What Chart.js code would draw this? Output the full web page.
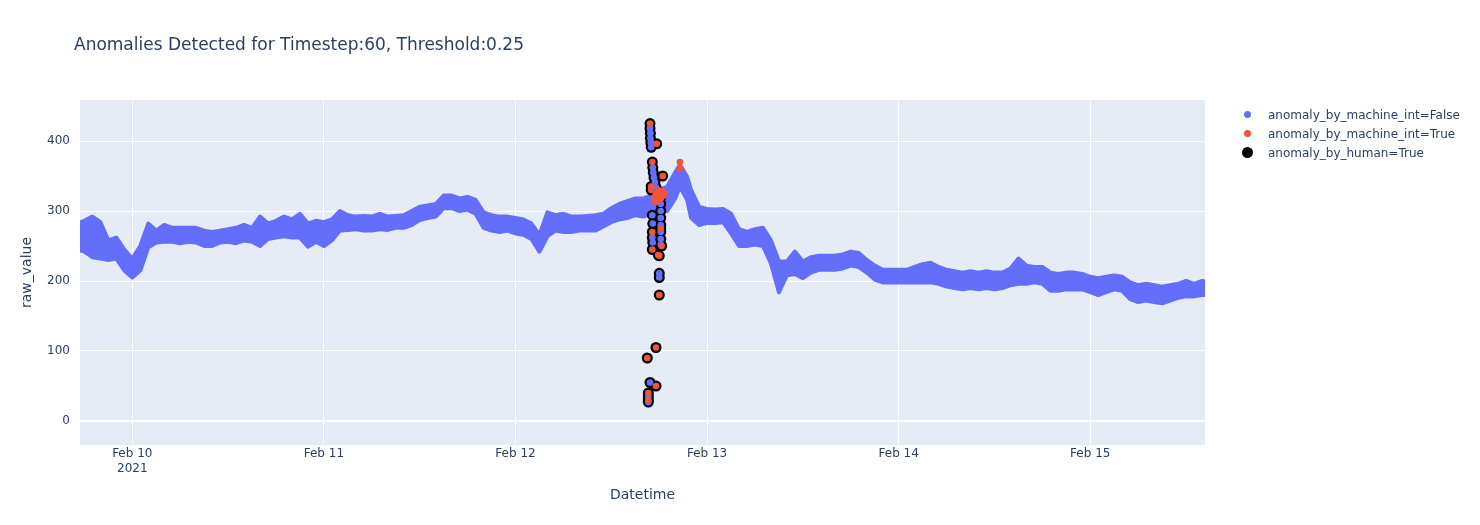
<!DOCTYPE html>
<html>
<head>
<meta charset="utf-8">
<script src="https://cdn.jsdelivr.net/npm/chart.js@4.4.1/dist/chart.umd.min.js"></script>
<style>
  body { margin: 0; background: #fff; font-family: "DejaVu Sans", sans-serif; }
  #wrap { position: relative; width: 1480px; height: 525px; }
  #title { position: absolute; left: 74px; top: 34px; font-size: 17px; color: #2a3f5f; white-space: nowrap; }
  #legend { position: absolute; left: 1240px; top: 105px; font-size: 12px; color: #2a3f5f; }
  .row { height: 19px; display: flex; align-items: center; white-space: nowrap; }
  .mark { width: 14px; display: flex; justify-content: center; margin-right: 14px; }
  .mark span { display: block; border-radius: 50%; }
</style>
</head>
<body>
<div id="wrap">
  <canvas id="anomalyChart" width="1480" height="525"></canvas>
  <div id="title">Anomalies Detected for Timestep:60, Threshold:0.25</div>
  <div id="legend">
    <div class="row"><div class="mark"><span style="width:7px;height:7px;background:#636efa"></span></div>anomaly_by_machine_int=False</div>
    <div class="row"><div class="mark"><span style="width:7px;height:7px;background:#ef553b"></span></div>anomaly_by_machine_int=True</div>
    <div class="row"><div class="mark"><span style="width:11px;height:11px;background:#000"></span></div>anomaly_by_human=True</div>
  </div>
</div>
<script>
// hours since 2021-02-10 00:00
const bandHours = [-7, -6, -5, -4, -3, -2, -1, 0, 1, 2, 3, 4, 5, 6, 7, 8, 9, 10, 11, 12, 13, 14, 15, 16, 17, 18, 19, 20,
  21, 22, 23, 24, 25, 26, 27, 28, 29, 30, 31, 32, 33, 34, 35, 36, 37, 38, 39, 40, 41, 42, 43, 44, 45, 46, 47, 48, 49, 50,
  51, 52, 53, 54, 55, 56, 57, 58, 59, 60, 61, 62, 63, 64, 65, 66, 67, 68, 68.6, 69.5, 70, 71, 72, 73, 74, 75, 76, 77, 78,
  79, 80, 81, 82, 83, 84, 85, 86, 87, 88, 89, 90, 91, 92, 93, 94, 95, 96, 97, 98, 99, 100, 101, 102, 103, 104, 105, 106,
  107, 108, 109, 110, 111, 112, 113, 114, 115, 116, 117, 118, 119, 120, 121, 122, 123, 124, 125, 126, 127, 128, 129, 130,
  131, 132, 133, 134, 135];
// upper / lower edge of the normal (machine=False) readings
const bandHigh = [282, 286, 292, 284, 258, 262, 245, 232, 250, 282, 272, 280, 276, 276, 276, 276, 272, 270, 272, 274, 276,
  280, 276, 292, 282, 286, 292, 288, 296, 282, 286, 284, 288, 300, 294, 292, 293, 292, 296, 292, 293, 294, 300, 306, 308,
  310, 322, 322, 318, 320, 316, 298, 294, 292, 292, 290, 288, 282, 266, 298, 294, 296, 292, 292, 293, 294, 296, 304, 310,
  314, 318, 318, 322, 330, 335, 355, 366, 349, 330, 306, 303, 302, 303, 296, 274, 270, 274, 276, 258, 228, 228, 242, 228,
  234, 236, 236, 236, 238, 242, 240, 230, 222, 216, 216, 216, 216, 220, 224, 226, 220, 216, 214, 212, 214, 212, 214, 212,
  212, 218, 232, 222, 220, 220, 212, 210, 212, 212, 210, 206, 204, 206, 208, 206, 198, 194, 196, 194, 192, 194, 196, 200,
  196, 200, 198];
const bandLow = [245, 242, 234, 232, 230, 232, 215, 205, 215, 248, 255, 256, 256, 254, 256, 255, 250, 250, 255, 256, 254,
  258, 256, 250, 260, 262, 264, 262, 262, 249, 256, 250, 258, 272, 273, 274, 272, 272, 274, 273, 276, 276, 280, 287, 290,
  292, 304, 304, 300, 302, 296, 276, 272, 270, 272, 268, 266, 260, 242, 264, 272, 270, 270, 272, 272, 272, 278, 284, 288,
  290, 294, 292, 296, 300, 300, 318, 335, 316, 290, 280, 283, 283, 284, 268, 250, 250, 252, 250, 225, 184, 208, 210, 204,
  212, 216, 216, 216, 218, 222, 220, 212, 202, 198, 198, 198, 198, 198, 198, 198, 196, 192, 190, 188, 190, 188, 190, 188,
  190, 194, 196, 196, 198, 196, 186, 186, 188, 188, 188, 184, 180, 184, 188, 186, 174, 170, 172, 170, 168, 172, 176, 178,
  178, 180, 180];

// points flagged by a human; fill colour comes from the machine flag
const humanHours = [64.85, 64.85, 64.9, 64.9, 64.95, 65.0, 65.69, 65.14, 65.2, 65.26, 65.35, 65.47, 65.6, 66.44, 65.0,
  65.0, 65.14, 65.2, 65.14, 65.14, 65.2, 65.14, 66.19, 66.31, 65.89, 66.01, 66.2, 66.2, 66.2, 66.2, 66.2, 66.2, 66.2, 66.2,
  66.01, 66.01, 66.01, 65.6, 64.51, 64.85, 65.6, 64.64, 64.64, 64.64, 64.64];
const humanValues = [425, 418, 411, 404, 398, 391, 396, 370, 362, 355, 348, 341, 334, 350, 335, 330, 294, 282, 270, 262,
  255, 245, 275, 250, 237, 236, 320, 310, 300, 290, 280, 270, 260, 252, 211, 205, 180, 105, 90, 55, 50, 40, 35, 30, 27];
const humanMachine = [1, 0, 0, 0, 0, 0, 1, 1, 0, 0, 0, 0, 0, 1, 1, 1, 0, 0, 1, 0, 0, 1, 1, 1, 1, 1, 0, 0, 0, 0, 0, 0, 0,
  0, 0, 0, 1, 1, 1, 0, 1, 1, 0, 1, 0];

// machine anomalies not flagged by a human
const machineHours = [68.6, 68.6, 65.4, 65.6, 65.8, 66.0, 66.2, 66.4, 66.6, 65.5, 65.9, 66.7];
const machineValues = [370, 360, 320, 325, 315, 322, 318, 328, 322, 312, 330, 325];

const dayTicks = [0, 24, 48, 72, 96, 120];
const dayLabels = [['Feb 10', '2021'], 'Feb 11', 'Feb 12', 'Feb 13', 'Feb 14', 'Feb 15'];
const valueTicks = [0, 100, 200, 300, 400];

const BLUE = '#636efa';
const RED = '#ef553b';
const FONT = '"DejaVu Sans", sans-serif';
const TEXT = '#2a3f5f';

const plotBg = {
    id: 'plotBg',
    beforeDraw: function (chart) {
        const a = chart.chartArea;
        const c = chart.ctx;
        c.save();
        c.fillStyle = '#e5ecf6';
        c.fillRect(a.left, a.top, a.right - a.left, a.bottom - a.top);
        c.restore();
    }
};

const pts = (xs, ys) => xs.map((x, i) => ({ x: x, y: ys[i] }));
const humanBlue = humanHours.map((h, i) => ({ x: h, y: humanValues[i] })).filter((p, i) => humanMachine[i] === 0);
const humanRed = humanHours.map((h, i) => ({ x: h, y: humanValues[i] })).filter((p, i) => humanMachine[i] === 1);

new Chart(document.getElementById('anomalyChart'), {
    type: 'line',
    data: {
        datasets: [
            {
                label: 'low', data: pts(bandHours, bandLow), borderColor: BLUE, borderWidth: 4,
                pointRadius: 0, fill: false, order: 6, clip: 0, borderJoinStyle: 'round'
            },
            {
                label: 'anomaly_by_machine_int=False', data: pts(bandHours, bandHigh), borderColor: BLUE,
                backgroundColor: BLUE, borderWidth: 4, pointRadius: 0, fill: '-1', order: 5, clip: 0,
                borderJoinStyle: 'round'
            },
            {
                label: 'anomaly_by_human=True', data: pts(humanHours, humanValues), showLine: false,
                pointRadius: 5.5, pointBackgroundColor: '#000', pointBorderWidth: 0, order: 4
            },
            {
                label: 'human_blue', data: humanBlue, showLine: false, pointRadius: 3.3,
                pointBackgroundColor: BLUE, pointBorderWidth: 0, order: 3
            },
            {
                label: 'anomaly_by_machine_int=True', data: humanRed.concat(pts(machineHours, machineValues)),
                showLine: false, pointRadius: 3.3, pointBackgroundColor: RED, pointBorderWidth: 0, order: 2
            }
        ]
    },
    options: {
        responsive: false,
        animation: false,
        devicePixelRatio: 1,
        layout: { padding: { left: 0, right: 275, top: 100, bottom: 0 } },
        plugins: { legend: { display: false }, tooltip: { enabled: false } },
        scales: {
            x: {
                type: 'linear',
                min: -6.55,
                max: 134.37,
                afterFit: function (scale) { scale.height = 80; },
                afterBuildTicks: function (scale) { scale.ticks = dayTicks.map(v => ({ value: v })); },
                grid: { color: '#ffffff', lineWidth: 1, drawTicks: false },
                border: { display: false },
                ticks: {
                    padding: 2,
                    color: TEXT,
                    font: { family: FONT, size: 12 },
                    maxRotation: 0,
                    callback: function (value) {
                        const i = dayTicks.indexOf(value);
                        return i >= 0 ? dayLabels[i] : '';
                    }
                },
                title: {
                    display: true, text: 'Datetime', color: TEXT,
                    font: { family: FONT, size: 14 }, padding: { top: 0, bottom: 21 }
                }
            },
            y: {
                min: -34.3,
                max: 458.6,
                afterFit: function (scale) { scale.width = 80; },
                afterBuildTicks: function (scale) { scale.ticks = valueTicks.map(v => ({ value: v })); },
                grid: {
                    color: '#ffffff',
                    lineWidth: function (ctx) { return ctx.tick && ctx.tick.value === 0 ? 2 : 1; },
                    drawTicks: false
                },
                border: { display: false },
                ticks: { padding: 10, color: TEXT, font: { family: FONT, size: 12 } },
                title: {
                    display: true, text: 'raw_value', color: TEXT,
                    font: { family: FONT, size: 14 }, padding: { top: 19, bottom: 0 }
                }
            }
        }
    },
    plugins: [plotBg]
});
</script>
</body>
</html>
